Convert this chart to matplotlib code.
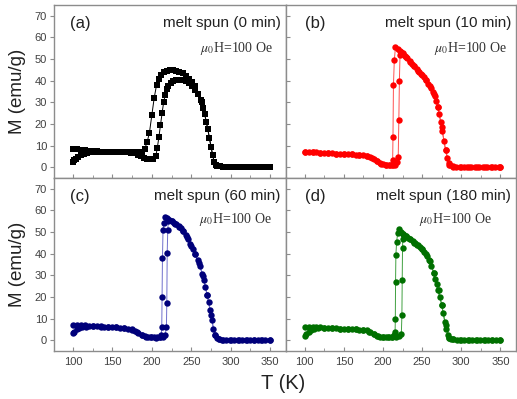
import matplotlib
matplotlib.use("Agg")
import matplotlib.pyplot as plt
from matplotlib.ticker import MultipleLocator

plt.rcParams["font.family"] = ["Liberation Sans", "DejaVu Sans"]
plt.rcParams["mathtext.fontset"] = "stix"

# (a) melt spun 0 min -- two branches
T_a1 = [100, 105, 110, 115, 120, 125, 130, 135, 140, 145, 150, 155, 160, 165, 170, 175, 180, 185,
        188, 191, 194, 197, 200, 203, 206, 209, 212, 215,
        219, 223, 227, 231, 235, 239, 243, 247, 251, 255, 259, 262, 265,
        267, 269, 271, 273, 275, 277, 279, 281, 283, 286, 290,
        295, 300, 305, 310, 315, 320, 325, 330, 335, 340, 345, 350]
M_a1 = [8.3, 8.2, 8.0, 7.8, 7.6, 7.4, 7.3, 7.2, 7.2, 7.1, 7.1, 7.0, 7.0, 7.0, 6.9, 6.9, 6.8, 6.7,
        7.0, 8.5, 11.5, 16, 24, 32, 38, 41, 42.8, 43.8,
        44.4, 44.8, 44.9, 44.7, 44.2, 43.4, 42.3, 41, 39.4, 37.5, 34, 31, 27.5,
        24.5, 21, 17.5, 13.5, 9.5, 5.5, 2.5, 1.1, 0.6, 0.4, 0.3,
        0.3, 0.3, 0.3, 0.2, 0.2, 0.2, 0.2, 0.2, 0.2, 0.2, 0.2, 0.2]
T_a2 = [100, 102, 104, 107, 110, 114, 118, 123, 128, 133, 138, 143, 148, 153, 158, 163, 168, 173,
        178, 182, 186, 190, 194, 198, 202,
        205, 207, 209, 211, 213, 215, 217, 219, 221, 224, 227,
        231, 235, 239, 243, 247, 251, 255, 259, 263, 267, 271, 275, 279, 283, 290,
        300, 310, 320, 330, 340, 350]
M_a2 = [2.5, 3.2, 3.9, 4.8, 5.5, 6.1, 6.5, 6.8, 7.0, 7.0, 7.0, 7.0, 7.0, 7.0, 6.9, 6.9, 6.8, 6.7,
        6.5, 5.8, 5.0, 4.3, 3.9, 3.7, 3.8,
        5, 9, 14, 19.5, 25, 30, 33.5, 36, 37.7, 39, 39.8,
        40.3, 40.5, 40.3, 39.7, 38.7, 37.4, 35.9, 34, 30, 24.5, 17.5, 9.5, 2.5, 0.6, 0.3,
        0.3, 0.2, 0.2, 0.2, 0.2, 0.2]

# (b) melt spun 10 min
T_b1 = [100, 105, 110, 115, 120, 125, 130, 135, 140, 145, 150, 155, 160, 165, 170, 175, 180,
        184, 188, 192, 196, 200, 204, 208, 211,
        212.4, 212.8, 213.4, 214.5, 216,
        219, 222, 225, 228, 231, 234, 237, 240, 243, 246, 249, 252, 255, 258, 261, 264,
        266, 268, 270, 272, 274, 276, 278, 280, 282, 284, 286, 289, 293,
        298, 303, 308, 313, 318, 323, 328, 333, 338, 343, 348, 350]
M_b1 = [7.1, 7.0, 6.9, 6.8, 6.7, 6.6, 6.5, 6.4, 6.3, 6.2, 6.1, 6.0, 5.9, 5.8, 5.7, 5.6, 5.4,
        4.8, 3.8, 2.8, 2.0, 1.5, 1.2, 1.0, 1.2,
        3.5, 14, 38, 49.5, 55.6,
        54.7, 53.7, 52.6, 51.5, 50.3, 49.1, 47.9, 46.7, 45.5, 44.2, 42.9, 41.6, 40.2, 38.6, 36.8, 34.6,
        32.8, 30.6, 27.8, 24.5, 20.8, 16.5, 12, 8, 4.3, 1.8, 0.8, 0.4, 0.3,
        0.3, 0.3, 0.3, 0.3, 0.2, 0.2, 0.2, 0.2, 0.2, 0.2, 0.2, 0.2]
T_b2 = [100, 110, 120, 130, 140, 150, 160, 170, 180,
        186, 192, 198, 204, 209, 213, 216, 218,
        219.5, 220.3, 221, 221.8, 223, 226, 230,
        235, 240, 245, 250, 255, 260, 265, 270, 275, 280, 285, 290,
        300, 310, 320, 330, 340, 350]
M_b2 = [7.1, 6.9, 6.7, 6.5, 6.3, 6.1, 5.9, 5.7, 5.4,
        4.4, 2.8, 1.7, 1.1, 0.9, 0.9, 1.2, 2.2,
        4.6, 22, 40, 51.8, 53.3, 52.3, 50.9,
        48.8, 46.7, 44.6, 42.4, 40.2, 37.6, 33.9, 27.8, 18.5, 8, 1.2, 0.3,
        0.3, 0.3, 0.2, 0.2, 0.2, 0.2]

# (c) melt spun 60 min
T_c1 = [100, 105, 110, 115, 120, 125, 130, 135, 140, 145, 150, 155, 160, 165, 170, 175,
        179, 183, 187, 191, 195, 199, 203, 207, 210, 212,
        212.6, 213, 213.5, 214.2, 215.2, 216.8,
        219, 222, 225, 228, 231, 234, 237, 240, 243, 246, 249, 252, 255, 258, 261, 264,
        266, 268, 270, 272, 274, 276, 278, 280, 282, 285, 289, 294,
        299, 304, 309, 314, 319, 324, 329, 334, 339, 344, 350]
M_c1 = [7.0, 7.0, 6.9, 6.8, 6.7, 6.6, 6.5, 6.4, 6.3, 6.2, 6.1, 6.0, 5.8, 5.6, 5.4, 5.0,
        4.4, 3.5, 2.6, 2.0, 1.6, 1.4, 1.3, 1.4, 1.7, 2.5,
        6.2, 20, 38, 51, 54, 56.9,
        56.3, 55.6, 54.9, 54.2, 53.5, 52.9, 52.0, 50.6, 48.8, 46.8, 44.7, 42.3, 39.8, 37.2, 34.2, 30.5,
        27.7, 24.5, 21, 17.8, 14, 9.5, 5.2, 2.2, 0.8, 0.4, 0.3, 0.3,
        0.3, 0.3, 0.2, 0.2, 0.2, 0.2, 0.2, 0.2, 0.2, 0.2, 0.2]
T_c2 = [100, 102, 105, 108, 112, 117, 125, 135, 145, 155, 165, 175,
        181, 187, 193, 199, 205, 210, 214, 217,
        218.5, 219, 219.5, 220.2, 221, 222, 225, 230,
        235, 240, 245, 250, 255, 260, 265, 270, 275, 280, 285, 290,
        300, 310, 320, 330, 340, 350]
M_c2 = [3.1, 4.0, 5.0, 5.6, 6.0, 6.3, 6.4, 6.3, 6.1, 5.9, 5.5, 4.9,
        3.9, 2.6, 1.7, 1.3, 1.2, 1.3, 1.6, 2.5,
        6.2, 17.3, 40.2, 51, 55, 55.4, 54.9, 53.8,
        52.5, 50.6, 47.5, 43.5, 39.8, 35.5, 29.5, 21, 11.5, 2.2, 0.4, 0.3,
        0.3, 0.2, 0.2, 0.2, 0.2, 0.2]

# (d) melt spun 180 min
T_d1 = [100, 105, 110, 115, 120, 125, 130, 135, 140, 145, 150, 155, 160, 165, 170, 175, 180,
        184, 188, 192, 196, 200, 204, 208, 212,
        214.5, 215.5, 215.8, 216.1, 216.5, 217.5, 218.8, 220.3,
        223, 226, 229, 232, 235, 238, 241, 244, 247, 250, 253, 256, 259, 262, 265,
        267, 269, 271, 273, 275, 277, 279, 281, 283, 285, 287, 290, 294,
        299, 304, 309, 314, 319, 324, 329, 334, 339, 344, 350]
M_d1 = [6.2, 6.2, 6.1, 6.0, 5.9, 5.8, 5.7, 5.6, 5.5, 5.4, 5.3, 5.2, 5.1, 5.0, 4.9, 4.8, 4.5,
        3.8, 2.8, 2.0, 1.6, 1.4, 1.3, 1.3, 1.5,
        2.2, 4, 10, 27, 39.4, 45.6, 49.5, 51.3,
        50.2, 49.2, 48.2, 47.4, 46.6, 45.8, 45, 44.2, 43.2, 42, 40.6, 38.9, 36.9, 34.3, 31,
        28.5, 25.8, 23, 20, 16.5, 12.5, 8.5, 5, 2.5, 1.2, 0.6, 0.4, 0.3,
        0.3, 0.3, 0.3, 0.2, 0.2, 0.2, 0.2, 0.2, 0.2, 0.2, 0.2]
T_d2 = [100, 102, 105, 108, 112, 117, 125, 135, 145, 155, 165, 175,
        182, 188, 194, 200, 206, 212, 217, 221,
        223.5, 224.2, 224.6, 225, 225.4, 226, 230,
        235, 240, 245, 250, 255, 260, 265, 270, 275, 280, 285, 290,
        300, 310, 320, 330, 340, 350]
M_d2 = [2.0, 3.0, 4.0, 4.8, 5.4, 5.7, 5.8, 5.6, 5.4, 5.2, 5.0, 4.7,
        3.9, 2.8, 1.9, 1.5, 1.3, 1.3, 1.5, 2.0,
        3, 11.6, 27.8, 42.5, 46.7, 48.9, 48.3,
        46.6, 45, 43.8, 42, 40, 36.5, 31, 23, 16.5, 7, 1.2, 0.4,
        0.3, 0.3, 0.2, 0.2, 0.2, 0.2]

labels = ["(a)", "(b)", "(c)", "(d)"]
titles = ["melt spun (0 min)", "melt spun (10 min)", "melt spun (60 min)", "melt spun (180 min)"]
field = r"$\mu_0$H=100 Oe"

panels = [
    (T_a1, M_a1, T_a2, M_a2, "black", "black", "s", 4.4),
    (T_b1, M_b1, T_b2, M_b2, "#ff0000", "#ff5050", "o", 4.6),
    (T_c1, M_c1, T_c2, M_c2, "#00007a", "#7070cc", "o", 4.6),
    (T_d1, M_d1, T_d2, M_d2, "#007000", "#40a040", "o", 4.6),
]

fig = plt.figure(figsize=(5.17, 3.99), dpi=100)
L, W1, W2 = 0.1044, 0.4487, 0.4449
B, H = 0.1203, 0.4336
rects = [(L, B + H, W1, H), (L + W1, B + H, W2, H), (L, B, W1, H), (L + W1, B, W2, H)]
lab_x = [0.07, 0.083, 0.07, 0.083]
fld_x = [0.944, 0.96, 0.94, 0.894]
fld_y = [0.75, 0.75, 0.76, 0.76]
grey = "#8c8c8c"

for i, (r, p) in enumerate(zip(rects, panels)):
    ax = fig.add_axes(r)
    t1, m1, t2, m2, mc, lc, mk, ms = p
    for t, m in ((t2, m2), (t1, m1)):
        ax.plot(t, m, "-", color=lc, lw=0.7, zorder=2)
        ax.plot(t, m, mk, color=mc, ms=ms, mew=0, zorder=3)
    ax.set_xlim(76, 370)
    ax.set_ylim(-5, 75)
    for s in ax.spines.values():
        s.set_color(grey)
        s.set_linewidth(1.0)
    ax.xaxis.set_major_locator(MultipleLocator(50))
    ax.xaxis.set_minor_locator(MultipleLocator(25))
    ax.yaxis.set_major_locator(MultipleLocator(10))
    left = i % 2 == 0
    bottom = i >= 2
    ax.tick_params(axis="x", which="both", direction="in", color=grey, labelsize=8,
                   labelcolor="#404040", labelbottom=bottom, pad=4)
    ax.tick_params(axis="x", which="major", length=3)
    ax.tick_params(axis="x", which="minor", length=2)
    ax.tick_params(axis="y", direction="out" if left else "in", length=3, color=grey,
                   labelsize=8, labelcolor="#404040", labelleft=left, pad=2)
    ax.text(lab_x[i], 0.895, labels[i], transform=ax.transAxes, fontsize=12,
            ha="left", va="center", color="#222222")
    ax.text(0.978, 0.895, titles[i], transform=ax.transAxes, fontsize=11,
            ha="right", va="center", color="#222222")
    ax.text(fld_x[i], fld_y[i], field, transform=ax.transAxes, fontsize=10,
            ha="right", va="center", color="#333333", family="Liberation Serif")

fig.text(18 / 517, 0.7707, "M (emu/g)", rotation=90, ha="center", va="center",
         fontsize=13.5, color="#222222")
fig.text(18 / 517, 0.337, "M (emu/g)", rotation=90, ha="center", va="center",
         fontsize=13.5, color="#222222")
fig.text(0.547, 0.0376, "T (K)", ha="center", va="center", fontsize=14.5, color="#222222")

fig.savefig("out.png", dpi=100)
